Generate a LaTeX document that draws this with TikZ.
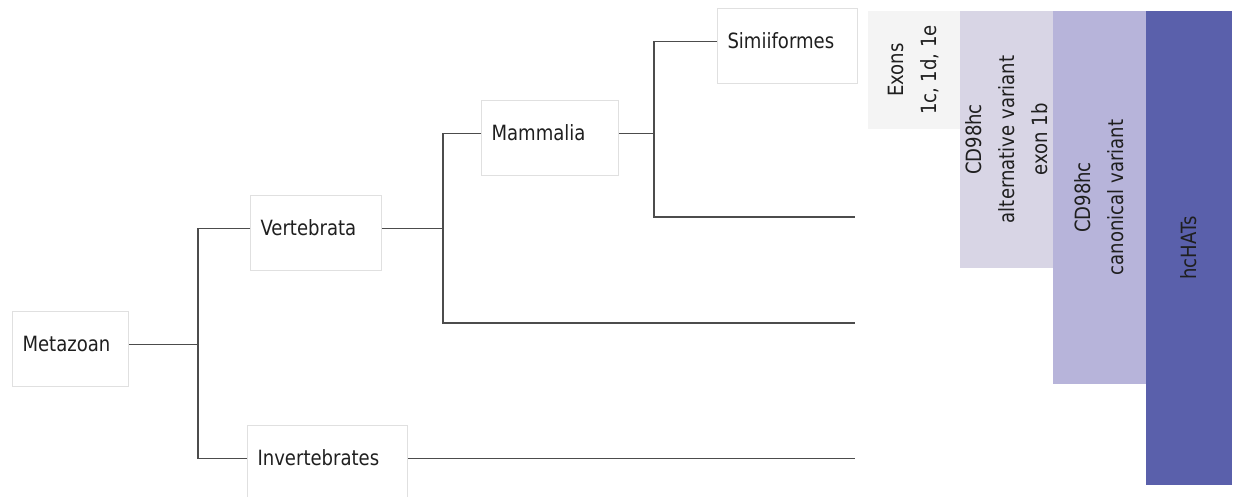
\documentclass[tikz,border=0pt]{standalone}
\usepackage{fontspec}
\setmainfont{DejaVu Sans}[FakeStretch=0.86]
\definecolor{exonsgray}{HTML}{F4F4F4}
\definecolor{altlilac}{HTML}{D8D5E5}
\definecolor{canonlilac}{HTML}{B7B4DA}
\definecolor{hatsblue}{HTML}{5A60AB}

\begin{document}
\begin{tikzpicture}[x=1pt, y=-1pt,
  every node/.style={font=\fontsize{21}{33}\selectfont, text=black!88},
  taxon/.style={draw=black!12, line width=1pt, anchor=north west, align=left,
    inner xsep=10pt, inner ysep=0pt, text height=40pt, text depth=35pt},
  bar/.style={rotate=90, align=center, inner sep=0pt},
  branch/.style={draw=black!70, line width=1.3pt}]
  \useasboundingbox (0,0) rectangle (1234,497);

  \node[taxon, text width=96pt] (meta) at (12,311) {Metazoan};
  \node[taxon, text width=111pt] (vert) at (250,195) {Vertebrata};
  \node[taxon, text width=140pt] (inv) at (247,425) {Invertebrates};
  \node[taxon, text width=117pt] (mam) at (481,100) {Mammalia};
  \node[taxon, text width=120pt] (sim) at (717,8) {Simiiformes};

  \node[bar, fill=exonsgray, minimum width=118pt, minimum height=92pt] (exons) at (914,70) {Exons\\1c, 1d, 1e};
  \node[bar, fill=altlilac, minimum width=257pt, minimum height=93pt] (alt) at (1006.5,139.5) {CD98hc\\alternative variant\\exon 1b};
  \node[bar, fill=canonlilac, minimum width=373pt, minimum height=93pt] (canon) at (1099.5,197.5) {CD98hc\\canonical variant};
  \node[bar, fill=hatsblue, minimum width=474pt, minimum height=86pt] (hats) at (1189,248) {hcHATs};

  \coordinate (j1) at (198,0);
  \coordinate (j2) at (443,0);
  \coordinate (j3) at (654,0);
  \coordinate (tips) at (855,0);
  \coordinate (tipV) at (855,323);
  \coordinate (tipM) at (855,217);

  \draw[branch] ([yshift=4.5pt]meta.mid east) -- ([yshift=4.5pt]meta.mid east -| j1);
  \draw[branch] ([yshift=4.5pt]vert.mid west) -- ([yshift=4.5pt]vert.mid west -| j1)
    -- ([yshift=4.5pt]inv.mid west -| j1) -- ([yshift=4.5pt]inv.mid west);
  \draw[branch] ([yshift=4.5pt]inv.mid east) -- ([yshift=4.5pt]inv.mid east -| tips);
  \draw[branch] ([yshift=4.5pt]vert.mid east) -- ([yshift=4.5pt]vert.mid east -| j2);
  \draw[branch] ([yshift=4.5pt]mam.mid west) -- ([yshift=4.5pt]mam.mid west -| j2) -- (tipV -| j2) -- (tipV);
  \draw[branch] ([yshift=4.5pt]mam.mid east) -- ([yshift=4.5pt]mam.mid east -| j3);
  \draw[branch] ([yshift=4.5pt]sim.mid west) -- ([yshift=4.5pt]sim.mid west -| j3) -- (tipM -| j3) -- (tipM);
\end{tikzpicture}
\end{document}
